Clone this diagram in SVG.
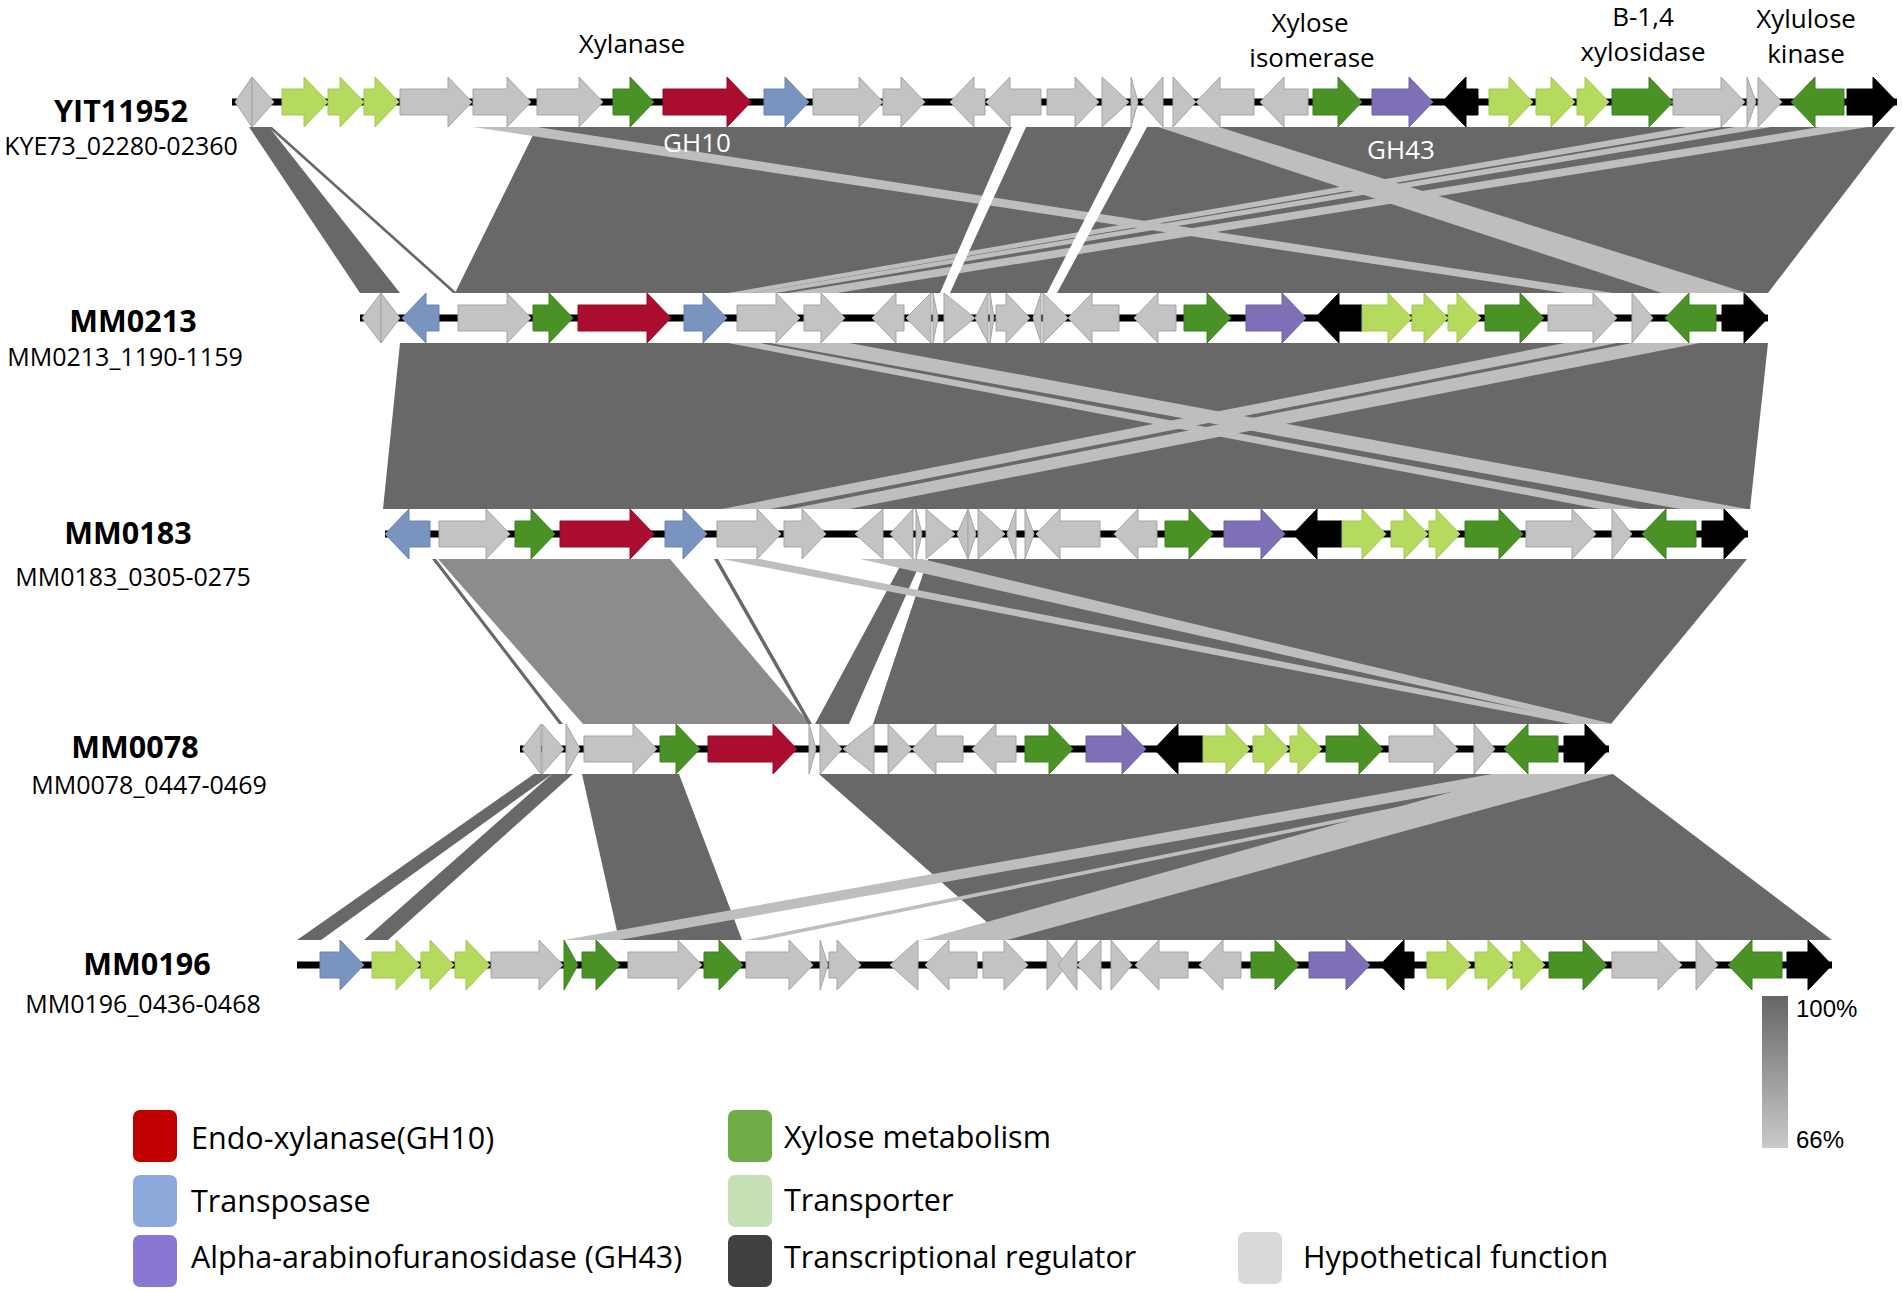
<svg xmlns="http://www.w3.org/2000/svg" width="1902" height="1292" viewBox="0 0 1902 1292">
<style>
text{font-family:"Open Sans","Noto Sans","DejaVu Sans",sans-serif;fill:#000}
.lab{font-size:26px;text-anchor:middle}
.wl{font-size:26px;text-anchor:middle;fill:#fff}
.nm{font-size:30.5px;font-weight:bold;text-anchor:middle}
.sub{font-size:25px;text-anchor:middle}
.leg{font-size:30.5px}
.pct{font-family:"Liberation Sans",Arial,sans-serif;font-size:24px}
.d{fill:#686868}
.m{fill:#8c8c8c}
.l{fill:#bebebe}
.w{fill:#fff}
.bb{stroke:#000;stroke-width:7}
.hy{fill:#c3c3c3;stroke:#a5a5a5;stroke-width:1}
.tp{fill:#b5da5e;stroke:#a3c752;stroke-width:1}
.xm{fill:#4a9226;stroke:#3f8020;stroke-width:1}
.gh10{fill:#ab0d2f;stroke:#950a27;stroke-width:1}
.tr{fill:#7a94c0;stroke:#6a84b0;stroke-width:1}
.gh43{fill:#7e6fb7;stroke:#6e60a5;stroke-width:1}
.rg{fill:#000;stroke:#000;stroke-width:1}
</style>
<defs>
<linearGradient id="sc" x1="0" y1="0" x2="0" y2="1">
<stop offset="0" stop-color="#666"/>
<stop offset="1" stop-color="#cacaca"/>
</linearGradient>
</defs>
<rect width="1902" height="1292" fill="#fff"/>

<g id="connectors">
<!-- YIT11952 -> MM0213 -->
<polygon class="d" points="249,127 269,127 400,293 360,293"/>
<polygon class="d" points="268,127 272,127 457,293 453,293"/>
<polygon class="d" points="537,127 1895,127 1768,293 455,293"/>
<polygon class="l" points="473,127 537,127 1613,293 1565,293"/>
<polygon class="l" points="1158,127 1219,127 1747,293 1662,293"/>
<polygon class="l" points="1686,127 1722,127 752,293 728,293"/>
<polygon class="l" points="1735,127 1771,127 776,293 752,293"/>
<polygon class="l" points="1820,127 1868,127 837,293 788,293"/>
<polygon class="w" points="1012,127 1026,127 950,293 940,293"/>
<polygon class="w" points="1132,127 1147,127 1057,293 1047,293"/>
<!-- MM0213 -> MM0183 -->
<polygon class="d" points="400,343 1768,343 1750,509 383,509"/>
<polygon class="l" points="728,343 760,343 1640,509 1600,509"/>
<polygon class="l" points="770,343 849,343 1747,509 1680,509"/>
<polygon class="l" points="1565,343 1617,343 770,509 722,509"/>
<polygon class="l" points="1632,343 1700,343 849,509 790,509"/>
<!-- MM0183 -> MM0078 -->
<polygon class="m" points="438,559 670,559 810,724 583,724"/>
<polygon class="d" points="432,559 436,559 563,724 559,724"/>
<polygon class="d" points="714,559 718,559 812,724 808,724"/>
<polygon class="d" points="904,559 922,559 849,724 815,724"/>
<polygon class="d" points="928,559 1747,559 1611,724 873,724"/>
<polygon class="l" points="722,559 760,559 1600,724 1571,724"/>
<polygon class="l" points="860,559 922,559 1613,724 1590,724"/>
<!-- MM0078 -> MM0196 -->
<polygon class="d" points="534,774 552,774 321,940 297,940"/>
<polygon class="d" points="552,774 573,774 388,940 364,940"/>
<polygon class="d" points="582,774 679,774 742,940 619,940"/>
<polygon class="d" points="819,774 1613,774 1832,940 1007,940"/>
<polygon class="l" points="1492,774 1553,774 619,940 564,940"/>
<polygon class="l" points="1559,774 1577,774 764,940 746,940"/>
<polygon class="l" points="1516,774 1613,774 1007,940 922,940"/>
</g>

<g id="YIT11952" transform="translate(0,102)">
<line class="bb" x1="232" y1="0" x2="1897" y2="0"/>
<polygon class="hy" points="252,-25 235,0 252,25"/>
<polygon class="hy" points="252,-25 274,0 252,25"/>
<polygon class="tp" points="282,-13 304,-13 304,-25 328,0 304,25 304,13 282,13"/>
<polygon class="tp" points="328,-13 340,-13 340,-25 364,0 340,25 340,13 328,13"/>
<polygon class="tp" points="364,-13 375,-13 375,-25 399,0 375,25 375,13 364,13"/>
<polygon class="hy" points="400,-13 448,-13 448,-25 472,0 448,25 448,13 400,13"/>
<polygon class="hy" points="473,-13 507,-13 507,-25 531,0 507,25 507,13 473,13"/>
<polygon class="hy" points="537,-13 579,-13 579,-25 603,0 579,25 579,13 537,13"/>
<polygon class="xm" points="613,-13 630,-13 630,-25 654,0 630,25 630,13 613,13"/>
<polygon class="gh10" points="663,-13 727,-13 727,-25 751,0 727,25 727,13 663,13"/>
<polygon class="tr" points="764,-13 785,-13 785,-25 809,0 785,25 785,13 764,13"/>
<polygon class="hy" points="813,-13 859,-13 859,-25 883,0 859,25 859,13 813,13"/>
<polygon class="hy" points="883,-13 901,-13 901,-25 925,0 901,25 901,13 883,13"/>
<polygon class="hy" points="985,-13 974,-13 974,-25 950,0 974,25 974,13 985,13"/>
<polygon class="hy" points="1041,-13 1010,-13 1010,-25 986,0 1010,25 1010,13 1041,13"/>
<polygon class="hy" points="1047,-13 1075,-13 1075,-25 1099,0 1075,25 1075,13 1047,13"/>
<polygon class="hy" points="1102,-25 1129,0 1102,25"/>
<polygon class="hy" points="1131,-25 1138,0 1131,25"/>
<polygon class="hy" points="1163,-25 1141,0 1163,25"/>
<polygon class="hy" points="1173,-25 1196,0 1173,25"/>
<polygon class="hy" points="1254,-13 1220,-13 1220,-25 1196,0 1220,25 1220,13 1254,13"/>
<polygon class="hy" points="1308,-13 1284,-13 1284,-25 1260,0 1284,25 1284,13 1308,13"/>
<polygon class="xm" points="1313,-13 1338,-13 1338,-25 1362,0 1338,25 1338,13 1313,13"/>
<polygon class="gh43" points="1372,-13 1409,-13 1409,-25 1433,0 1409,25 1409,13 1372,13"/>
<polygon class="rg" points="1478,-13 1466,-13 1466,-25 1442,0 1466,25 1466,13 1478,13"/>
<polygon class="tp" points="1489,-13 1509,-13 1509,-25 1533,0 1509,25 1509,13 1489,13"/>
<polygon class="tp" points="1536,-13 1551,-13 1551,-25 1575,0 1551,25 1551,13 1536,13"/>
<polygon class="tp" points="1577,-13 1585,-13 1585,-25 1609,0 1585,25 1585,13 1577,13"/>
<polygon class="xm" points="1612,-13 1649,-13 1649,-25 1673,0 1649,25 1649,13 1612,13"/>
<polygon class="hy" points="1673,-13 1721,-13 1721,-25 1745,0 1721,25 1721,13 1673,13"/>
<polygon class="hy" points="1747,-25 1756,0 1747,25"/>
<polygon class="hy" points="1758,-25 1782,0 1758,25"/>
<polygon class="xm" points="1844,-13 1815,-13 1815,-25 1791,0 1815,25 1815,13 1844,13"/>
<polygon class="rg" points="1847,-13 1873,-13 1873,-25 1897,0 1873,25 1873,13 1847,13"/>
<text class="nm" x="121" y="20">YIT11952</text>
<text class="sub" x="121" y="53">KYE73_02280-02360</text>
<text class="wl" x="697" y="50">GH10</text>
<text class="wl" x="1401" y="57">GH43</text>
</g>

<g id="labels-top">
<text class="lab" x="632" y="53">Xylanase</text>
<text class="lab" x="1310" y="32">Xylose</text>
<text class="lab" x="1312" y="67">isomerase</text>
<text class="lab" x="1643" y="26">B-1,4</text>
<text class="lab" x="1643" y="61">xylosidase</text>
<text class="lab" x="1806" y="28">Xylulose</text>
<text class="lab" x="1806" y="63">kinase</text>
</g>

<g id="MM0213" transform="translate(0,318)">
<line class="bb" x1="360" y1="0" x2="1768" y2="0"/>
<polygon class="hy" points="381,-25 362,0 381,25"/>
<polygon class="hy" points="381,-25 400,0 381,25"/>
<polygon class="tr" points="439,-13 426,-13 426,-25 402,0 426,25 426,13 439,13"/>
<polygon class="hy" points="458,-13 507,-13 507,-25 531,0 507,25 507,13 458,13"/>
<polygon class="xm" points="533,-13 549,-13 549,-25 573,0 549,25 549,13 533,13"/>
<polygon class="gh10" points="578,-13 647,-13 647,-25 671,0 647,25 647,13 578,13"/>
<polygon class="tr" points="684,-13 703,-13 703,-25 727,0 703,25 703,13 684,13"/>
<polygon class="hy" points="737,-13 776,-13 776,-25 800,0 776,25 776,13 737,13"/>
<polygon class="hy" points="804,-13 821,-13 821,-25 845,0 821,25 821,13 804,13"/>
<polygon class="hy" points="904,-13 896,-13 896,-25 872,0 896,25 896,13 904,13"/>
<polygon class="hy" points="931,-25 906,0 931,25"/>
<polygon class="hy" points="933,-25 938,0 933,25"/>
<polygon class="hy" points="944,-25 975,0 944,25"/>
<polygon class="hy" points="988,-25 975,0 988,25"/>
<polygon class="hy" points="990,-25 994,0 990,25"/>
<polygon class="hy" points="996,-13 1006,-13 1006,-25 1030,0 1006,25 1006,13 996,13"/>
<polygon class="hy" points="1041,-25 1033,0 1041,25"/>
<polygon class="hy" points="1043,-25 1068,0 1043,25"/>
<polygon class="hy" points="1119,-13 1092,-13 1092,-25 1068,0 1092,25 1092,13 1119,13"/>
<polygon class="hy" points="1176,-13 1158,-13 1158,-25 1134,0 1158,25 1158,13 1176,13"/>
<polygon class="xm" points="1184,-13 1207,-13 1207,-25 1231,0 1207,25 1207,13 1184,13"/>
<polygon class="gh43" points="1246,-13 1282,-13 1282,-25 1306,0 1282,25 1282,13 1246,13"/>
<polygon class="rg" points="1362,-13 1339,-13 1339,-25 1315,0 1339,25 1339,13 1362,13"/>
<polygon class="tp" points="1362,-13 1388,-13 1388,-25 1412,0 1388,25 1388,13 1362,13"/>
<polygon class="tp" points="1412,-13 1424,-13 1424,-25 1448,0 1424,25 1424,13 1412,13"/>
<polygon class="tp" points="1448,-13 1457,-13 1457,-25 1481,0 1457,25 1457,13 1448,13"/>
<polygon class="xm" points="1485,-13 1520,-13 1520,-25 1544,0 1520,25 1520,13 1485,13"/>
<polygon class="hy" points="1548,-13 1593,-13 1593,-25 1617,0 1593,25 1593,13 1548,13"/>
<polygon class="hy" points="1632,-25 1653,0 1632,25"/>
<polygon class="xm" points="1716,-13 1689,-13 1689,-25 1665,0 1689,25 1689,13 1716,13"/>
<polygon class="rg" points="1722,-13 1744,-13 1744,-25 1768,0 1744,25 1744,13 1722,13"/>
<text class="nm" x="133" y="14">MM0213</text>
<text class="sub" x="125" y="48">MM0213_1190-1159</text>
</g>

<g id="MM0183" transform="translate(0,534)">
<line class="bb" x1="385" y1="0" x2="1748" y2="0"/>
<polygon class="tr" points="430,-13 409,-13 409,-25 385,0 409,25 409,13 430,13"/>
<polygon class="hy" points="439,-13 486,-13 486,-25 510,0 486,25 486,13 439,13"/>
<polygon class="xm" points="515,-13 531,-13 531,-25 555,0 531,25 531,13 515,13"/>
<polygon class="gh10" points="560,-13 630,-13 630,-25 654,0 630,25 630,13 560,13"/>
<polygon class="tr" points="665,-13 683,-13 683,-25 707,0 683,25 683,13 665,13"/>
<polygon class="hy" points="717,-13 757,-13 757,-25 781,0 757,25 757,13 717,13"/>
<polygon class="hy" points="784,-13 802,-13 802,-25 826,0 802,25 802,13 784,13"/>
<polygon class="hy" points="883,-25 855,0 883,25"/>
<polygon class="hy" points="913,-25 890,0 913,25"/>
<polygon class="hy" points="916,-25 922,0 916,25"/>
<polygon class="hy" points="926,-25 955,0 926,25"/>
<polygon class="hy" points="968,-25 957,0 968,25"/>
<polygon class="hy" points="968,-25 976,0 968,25"/>
<polygon class="hy" points="978,-25 1005,0 978,25"/>
<polygon class="hy" points="1016,-25 1007,0 1016,25"/>
<polygon class="hy" points="1025,-25 1034,0 1025,25"/>
<polygon class="hy" points="1100,-13 1060,-13 1060,-25 1036,0 1060,25 1060,13 1100,13"/>
<polygon class="hy" points="1157,-13 1138,-13 1138,-25 1114,0 1138,25 1138,13 1157,13"/>
<polygon class="xm" points="1165,-13 1189,-13 1189,-25 1213,0 1189,25 1189,13 1165,13"/>
<polygon class="gh43" points="1224,-13 1261,-13 1261,-25 1285,0 1261,25 1261,13 1224,13"/>
<polygon class="rg" points="1342,-13 1317,-13 1317,-25 1293,0 1317,25 1317,13 1342,13"/>
<polygon class="tp" points="1342,-13 1362,-13 1362,-25 1386,0 1362,25 1362,13 1342,13"/>
<polygon class="tp" points="1391,-13 1404,-13 1404,-25 1428,0 1404,25 1404,13 1391,13"/>
<polygon class="tp" points="1429,-13 1436,-13 1436,-25 1460,0 1436,25 1436,13 1429,13"/>
<polygon class="xm" points="1465,-13 1499,-13 1499,-25 1523,0 1499,25 1499,13 1465,13"/>
<polygon class="hy" points="1526,-13 1572,-13 1572,-25 1596,0 1572,25 1572,13 1526,13"/>
<polygon class="hy" points="1612,-25 1632,0 1612,25"/>
<polygon class="xm" points="1696,-13 1666,-13 1666,-25 1642,0 1666,25 1666,13 1696,13"/>
<polygon class="rg" points="1702,-13 1724,-13 1724,-25 1748,0 1724,25 1724,13 1702,13"/>
<text class="nm" x="128" y="10">MM0183</text>
<text class="sub" x="133" y="52">MM0183_0305-0275</text>
</g>

<g id="MM0078" transform="translate(0,749)">
<line class="bb" x1="520" y1="0" x2="1609" y2="0"/>
<polygon class="hy" points="541,-25 522,0 541,25"/>
<polygon class="hy" points="542,-25 564,0 542,25"/>
<polygon class="hy" points="566,-25 580,0 566,25"/>
<polygon class="hy" points="584,-13 633,-13 633,-25 657,0 633,25 633,13 584,13"/>
<polygon class="xm" points="660,-13 676,-13 676,-25 700,0 676,25 676,13 660,13"/>
<polygon class="gh10" points="708,-13 773,-13 773,-25 797,0 773,25 773,13 708,13"/>
<polygon class="hy" points="809,-25 816,0 809,25"/>
<polygon class="hy" points="820,-25 842,0 820,25"/>
<polygon class="hy" points="874,-25 843,0 874,25"/>
<polygon class="hy" points="888,-25 912,0 888,25"/>
<polygon class="hy" points="963,-13 936,-13 936,-25 912,0 936,25 936,13 963,13"/>
<polygon class="hy" points="1016,-13 996,-13 996,-25 972,0 996,25 996,13 1016,13"/>
<polygon class="xm" points="1025,-13 1049,-13 1049,-25 1073,0 1049,25 1049,13 1025,13"/>
<polygon class="gh43" points="1086,-13 1122,-13 1122,-25 1146,0 1122,25 1122,13 1086,13"/>
<polygon class="rg" points="1203,-13 1178,-13 1178,-25 1154,0 1178,25 1178,13 1203,13"/>
<polygon class="tp" points="1203,-13 1226,-13 1226,-25 1250,0 1226,25 1226,13 1203,13"/>
<polygon class="tp" points="1253,-13 1265,-13 1265,-25 1289,0 1265,25 1265,13 1253,13"/>
<polygon class="tp" points="1290,-13 1298,-13 1298,-25 1322,0 1298,25 1298,13 1290,13"/>
<polygon class="xm" points="1326,-13 1359,-13 1359,-25 1383,0 1359,25 1359,13 1326,13"/>
<polygon class="hy" points="1389,-13 1434,-13 1434,-25 1458,0 1434,25 1434,13 1389,13"/>
<polygon class="hy" points="1474,-25 1495,0 1474,25"/>
<polygon class="xm" points="1558,-13 1528,-13 1528,-25 1504,0 1528,25 1528,13 1558,13"/>
<polygon class="rg" points="1564,-13 1585,-13 1585,-25 1609,0 1585,25 1585,13 1564,13"/>
<text class="nm" x="135" y="9">MM0078</text>
<text class="sub" x="149" y="45">MM0078_0447-0469</text>
</g>

<g id="MM0196" transform="translate(0,965)">
<line class="bb" x1="297" y1="0" x2="1832" y2="0"/>
<polygon class="tr" points="320,-13 340,-13 340,-25 364,0 340,25 340,13 320,13"/>
<polygon class="tp" points="372,-13 396,-13 396,-25 420,0 396,25 396,13 372,13"/>
<polygon class="tp" points="421,-13 430,-13 430,-25 454,0 430,25 430,13 421,13"/>
<polygon class="tp" points="455,-13 466,-13 466,-25 490,0 466,25 466,13 455,13"/>
<polygon class="hy" points="491,-13 539,-13 539,-25 563,0 539,25 539,13 491,13"/>
<polygon class="xm" points="564,-25 578,0 564,25"/>
<polygon class="xm" points="582,-13 596,-13 596,-25 620,0 596,25 596,13 582,13"/>
<polygon class="hy" points="628,-13 678,-13 678,-25 702,0 678,25 678,13 628,13"/>
<polygon class="xm" points="704,-13 719,-13 719,-25 743,0 719,25 719,13 704,13"/>
<polygon class="hy" points="746,-13 789,-13 789,-25 813,0 789,25 789,13 746,13"/>
<polygon class="hy" points="820,-25 828,0 820,25"/>
<polygon class="hy" points="829,-13 837,-13 837,-25 861,0 837,25 837,13 829,13"/>
<polygon class="hy" points="918,-25 890,0 918,25"/>
<polygon class="hy" points="977,-13 949,-13 949,-25 925,0 949,25 949,13 977,13"/>
<polygon class="hy" points="983,-13 1004,-13 1004,-25 1028,0 1004,25 1004,13 983,13"/>
<polygon class="hy" points="1047,-25 1067,0 1047,25"/>
<polygon class="hy" points="1077,-25 1058,0 1077,25"/>
<polygon class="hy" points="1101,-25 1077,0 1101,25"/>
<polygon class="hy" points="1111,-25 1132,0 1111,25"/>
<polygon class="hy" points="1188,-13 1159,-13 1159,-25 1135,0 1159,25 1159,13 1188,13"/>
<polygon class="hy" points="1241,-13 1223,-13 1223,-25 1199,0 1223,25 1223,13 1241,13"/>
<polygon class="xm" points="1251,-13 1275,-13 1275,-25 1299,0 1275,25 1275,13 1251,13"/>
<polygon class="gh43" points="1309,-13 1346,-13 1346,-25 1370,0 1346,25 1346,13 1309,13"/>
<polygon class="rg" points="1414,-13 1404,-13 1404,-25 1380,0 1404,25 1404,13 1414,13"/>
<polygon class="tp" points="1427,-13 1447,-13 1447,-25 1471,0 1447,25 1447,13 1427,13"/>
<polygon class="tp" points="1475,-13 1488,-13 1488,-25 1512,0 1488,25 1488,13 1475,13"/>
<polygon class="tp" points="1513,-13 1521,-13 1521,-25 1545,0 1521,25 1521,13 1513,13"/>
<polygon class="xm" points="1549,-13 1583,-13 1583,-25 1607,0 1583,25 1583,13 1549,13"/>
<polygon class="hy" points="1612,-13 1658,-13 1658,-25 1682,0 1658,25 1658,13 1612,13"/>
<polygon class="hy" points="1696,-25 1718,0 1696,25"/>
<polygon class="xm" points="1782,-13 1752,-13 1752,-25 1728,0 1752,25 1752,13 1782,13"/>
<polygon class="rg" points="1787,-13 1808,-13 1808,-25 1832,0 1808,25 1808,13 1787,13"/>
<text class="nm" x="147" y="10">MM0196</text>
<text class="sub" x="143" y="48">MM0196_0436-0468</text>
</g>

<g id="scale">
<rect x="1762" y="996" width="26" height="152" fill="url(#sc)"/>
<text class="pct" x="1796" y="1017">100%</text>
<text class="pct" x="1796" y="1148">66%</text>
</g>

<g id="legend">
<rect x="133" y="1110" width="44" height="52" rx="7" fill="#c00000"/>
<text class="leg" x="191" y="1149">Endo-xylanase(GH10)</text>
<rect x="133" y="1175" width="44" height="52" rx="7" fill="#8ea9dc"/>
<text class="leg" x="191" y="1212">Transposase</text>
<rect x="133" y="1235" width="44" height="52" rx="7" fill="#8a76d3"/>
<text class="leg" x="191" y="1268">Alpha-arabinofuranosidase (GH43)</text>
<rect x="728" y="1110" width="44" height="52" rx="7" fill="#70ad47"/>
<text class="leg" x="784" y="1148">Xylose metabolism</text>
<rect x="728" y="1175" width="44" height="52" rx="7" fill="#c5e0b4"/>
<text class="leg" x="784" y="1211">Transporter</text>
<rect x="728" y="1235" width="44" height="52" rx="7" fill="#404040"/>
<text class="leg" x="784" y="1268">Transcriptional regulator</text>
<rect x="1238" y="1232" width="44" height="52" rx="7" fill="#d9d9d9"/>
<text class="leg" x="1303" y="1268">Hypothetical function</text>
</g>
</svg>
